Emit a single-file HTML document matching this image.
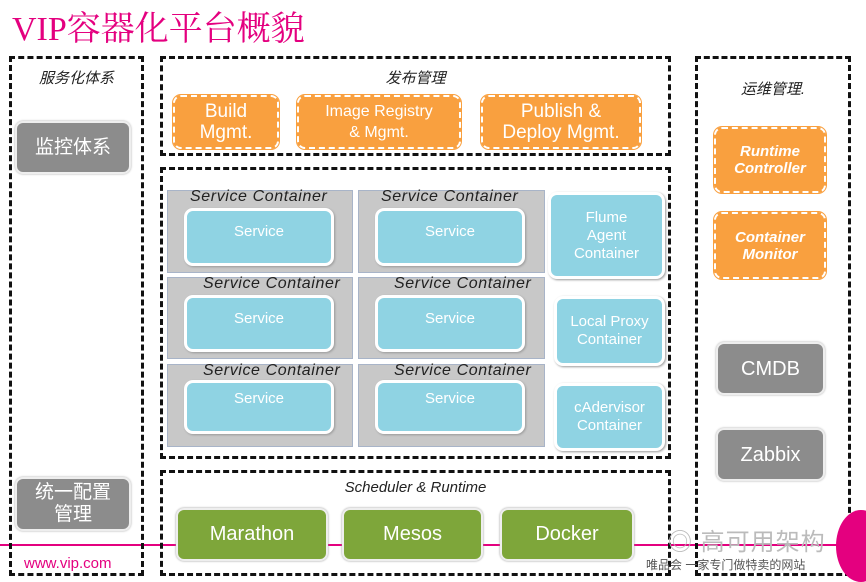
<!DOCTYPE html>
<html><head><meta charset="utf-8"><style>
body{margin:0;width:866px;height:582px;background:#fff;position:relative;overflow:hidden;font-family:"Liberation Sans","Noto Sans CJK SC",sans-serif}
div{box-sizing:border-box;position:absolute}
.d{border:3px dashed #111}
.lab{font-style:italic;font-size:15px;color:#222;text-align:center}
.g{background:#8c8c8c;color:#fff;border-radius:8px;border:2px solid #eee;box-shadow:0 0 2px #aaa;display:flex;align-items:center;justify-content:center;text-align:center;font-size:19px;line-height:22px}
.o{background:#f9a03f;color:#fff;border-radius:8px;border:2px dashed #fff;outline:1px solid #f9a03f;display:flex;align-items:center;justify-content:center;text-align:center;font-size:19px;line-height:21px}
.sc{background:#c8c8c8;border:1px solid #a8b4c8}
.sc span{position:absolute;top:-3px;left:22px;font-style:italic;font-size:16px;letter-spacing:0.6px;color:#222;white-space:nowrap}
.s{background:#8fd3e3;border:3px solid #fff;border-radius:9px;box-shadow:1px 1px 2px #999;color:#fff;font-size:15px;display:flex;align-items:center;justify-content:center;text-align:center;line-height:18px}
.gr{background:#7ea63a;color:#fff;border-radius:8px;border:2px solid #eee;box-shadow:0 0 2px #999;display:flex;align-items:center;justify-content:center;font-size:20px}
</style></head><body>
<div style="left:12px;top:1px;font-family:'Liberation Serif','Noto Serif CJK SC',serif;font-size:34px;color:#e4007f">VIP容器化平台概貌</div>
<div style="left:0;top:544px;width:866px;height:2px;background:#e4007f"></div>

<div class="d" style="left:9px;top:56px;width:135px;height:520px"></div>
<div class="lab" style="left:9px;top:67px;width:135px">服务化体系</div>
<div class="g" style="left:15px;top:121px;width:116px;height:53px">监控体系</div>
<div class="g" style="left:15px;top:477px;width:116px;height:54px">统一配置<br>管理</div>

<div class="d" style="left:160px;top:56px;width:511px;height:100px"></div>
<div class="lab" style="left:160px;top:67px;width:511px">发布管理</div>
<div class="o" style="left:173px;top:95px;width:106px;height:54px">Build<br>Mgmt.</div>
<div class="o" style="left:297px;top:95px;width:164px;height:54px;font-size:16px">Image Registry<br>&amp; Mgmt.</div>
<div class="o" style="left:481px;top:95px;width:160px;height:54px">Publish &amp;<br>Deploy Mgmt.</div>

<div class="d" style="left:160px;top:167px;width:511px;height:292px"></div>
<div class="sc" style="left:167px;top:190px;width:186px;height:83px"><span>Service Container</span></div>
<div class="sc" style="left:358px;top:190px;width:187px;height:83px"><span>Service Container</span></div>
<div class="sc" style="left:167px;top:277px;width:186px;height:82px"><span style="left:35px">Service Container</span></div>
<div class="sc" style="left:358px;top:277px;width:187px;height:82px"><span style="left:35px">Service Container</span></div>
<div class="sc" style="left:167px;top:364px;width:186px;height:83px"><span style="left:35px">Service Container</span></div>
<div class="sc" style="left:358px;top:364px;width:187px;height:83px"><span style="left:35px">Service Container</span></div>
<div class="s" style="left:184px;top:208px;width:150px;height:58px;align-items:flex-start;padding-top:12px">Service</div>
<div class="s" style="left:375px;top:208px;width:150px;height:58px;align-items:flex-start;padding-top:12px">Service</div>
<div class="s" style="left:184px;top:295px;width:150px;height:57px;align-items:flex-start;padding-top:12px">Service</div>
<div class="s" style="left:375px;top:295px;width:150px;height:57px;align-items:flex-start;padding-top:12px">Service</div>
<div class="s" style="left:184px;top:380px;width:150px;height:54px;align-items:flex-start;padding-top:7px">Service</div>
<div class="s" style="left:375px;top:380px;width:150px;height:54px;align-items:flex-start;padding-top:7px">Service</div>
<div class="s" style="left:548px;top:192px;width:117px;height:87px">Flume<br>Agent<br>Container</div>
<div class="s" style="left:554px;top:296px;width:111px;height:70px">Local Proxy<br>Container</div>
<div class="s" style="left:554px;top:383px;width:111px;height:68px">cAdervisor<br>Container</div>

<div class="d" style="left:160px;top:470px;width:511px;height:106px"></div>
<div class="lab" style="left:160px;top:479px;width:511px">Scheduler &amp; Runtime</div>
<div class="gr" style="left:176px;top:508px;width:152px;height:53px">Marathon</div>
<div class="gr" style="left:342px;top:508px;width:141px;height:53px">Mesos</div>
<div class="gr" style="left:500px;top:508px;width:134px;height:53px">Docker</div>

<div class="d" style="left:695px;top:56px;width:156px;height:520px"></div>
<div class="lab" style="left:695px;top:78px;width:156px">运维管理.</div>
<div class="o" style="left:714px;top:127px;width:112px;height:66px;font-size:15px;font-weight:bold;font-style:italic;line-height:17px">Runtime<br>Controller</div>
<div class="o" style="left:714px;top:212px;width:112px;height:67px;font-size:15px;font-weight:bold;font-style:italic;line-height:17px">Container<br>Monitor</div>
<div class="g" style="left:716px;top:342px;width:109px;height:53px;font-size:20px">CMDB</div>
<div class="g" style="left:716px;top:428px;width:109px;height:53px;font-size:20px">Zabbix</div>

<div style="left:24px;top:555px;color:#e4007f;font-size:15px">www.vip.com</div>
<div style="left:668px;top:522px;color:#bbb;font-size:24px;letter-spacing:1px">◎ 高可用架构</div>
<div style="left:646px;top:556px;color:#555;font-size:12px">唯品会 一家专门做特卖的网站</div>
<div style="left:836px;top:510px;width:50px;height:72px;border-radius:50%;background:#e4007f"></div>
</body></html>
